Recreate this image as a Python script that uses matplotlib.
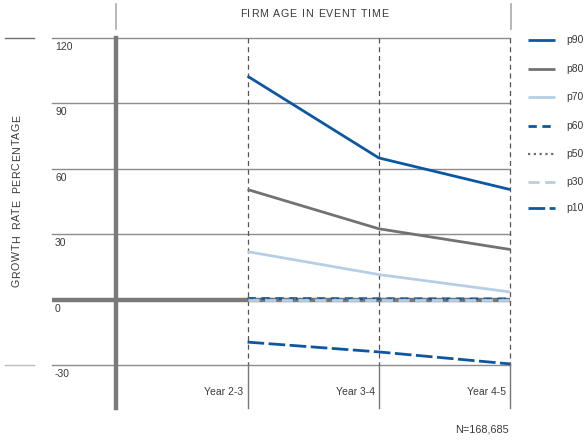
import matplotlib
matplotlib.use("Agg")
import matplotlib.pyplot as plt
from matplotlib.lines import Line2D
from matplotlib.transforms import offset_copy
from matplotlib.font_manager import FontProperties

plt.rcParams['font.family'] = ['Liberation Sans', 'DejaVu Sans']

# Data
periods = ["Year 2-3", "Year 3-4", "Year 4-5"]
series_names = ["p90", "p80", "p70", "p60", "p50", "p30", "p10"]
p90 = [102.5, 65.0, 50.5]
p80 = [50.5, 32.5, 23.0]
p70 = [22.0, 11.5, 3.5]
p60 = [0.5, 0.4, 0.3]
p50 = [0.3, 0.2, 0.1]
p30 = [0.0, 0.0, 0.0]
p10 = [-19.5, -24.0, -29.5]
y_ticks = [120, 90, 60, 30, 0, -30]
sample_size = "N=168,685"

values = [p90, p80, p70, p60, p50, p30, p10]
styles = [
    dict(color="#0d57a0", lw=2.0, ls="-"),
    dict(color="#727272", lw=2.0, ls="-"),
    dict(color="#b6cfe5", lw=2.0, ls="-"),
    dict(color="#0d57a0", lw=2.0, ls=(0, (3, 2))),
    dict(color="#6e6e6e", lw=1.6, ls=(0, (1, 1.6))),
    dict(color="#b6cfe5", lw=2.0, ls=(0, (4, 2))),
    dict(color="#0d57a0", lw=2.0, ls=(0, (6, 1.6))),
]

W, H = 587, 441
fig = plt.figure(figsize=(W / 100, H / 100), dpi=100)
renderer = fig.canvas.get_renderer()
txt_color = "#3a3a3a"


def fx(px):
    return px / W


def fy(py):
    return 1 - py / H


def ink_width(s, prop):
    return renderer.get_text_width_height_descent(s, prop, ismath=False)[0]


def spaced_text(cx, cy, s, size, track, word_extra, vertical=False):
    """Draw letter-spaced text centred on pixel position (cx, cy)."""
    prop = FontProperties(family=['Liberation Sans', 'DejaVu Sans'], size=size)
    n = len(s)
    total = ink_width(s, prop) + (n - 1) * track + s.count(" ") * word_extra
    for i, ch in enumerate(s):
        if ch == " ":
            continue
        # left ink edge of character i relative to the first character
        off = (ink_width(s[:i + 1], prop) - ink_width(ch, prop) + i * track
               + s[:i].count(" ") * word_extra)
        if vertical:
            fig.text(fx(cx), fy(cy + total / 2 - off), ch, rotation=90,
                     rotation_mode="anchor", ha="left", va="center",
                     fontproperties=prop, color=txt_color)
        else:
            fig.text(fx(cx - total / 2 + off), fy(cy), ch, ha="left",
                     va="center", fontproperties=prop, color=txt_color)


ax = fig.add_axes([fx(52), fy(365), fx(510) - fx(52), fy(38) - fy(365)])
ax.set_xlim(-1.49, 2.0)
ax.set_ylim(-30, 120)
ax.axis("off")

xs = list(range(len(periods)))

# horizontal gridlines
for t in y_ticks:
    if t == 0:
        continue
    ax.axhline(t, color="#8c8c8c", lw=1.0, zorder=1, clip_on=False)
# zero line and left axis bar
ax.axhline(0, color="#7a7a7a", lw=3.2, zorder=2)
ax.plot([-1, -1], [120, -49.5], color="#7a7a7a", lw=3.2, clip_on=False, zorder=2)

# vertical period separators: dashed inside, solid below the plot
for x in xs:
    ax.plot([x, x], [120, -30], color="#555555", lw=0.9, ls=(0, (4, 3)),
            zorder=1, clip_on=False)
    ax.plot([x, x], [-30, -49.5], color="#777777", lw=1.0, clip_on=False, zorder=1)

# series
order = [2, 1, 0, 6, 5, 3, 4]
for i in order:
    ax.plot(xs, values[i], zorder=3 + i * 0.1, solid_capstyle="butt",
            dash_capstyle="butt", clip_on=False, **styles[i])

# y tick labels, placed just under each gridline
lab_tr = offset_copy(ax.transData, fig=fig, x=3, y=-4, units="dots")
for t in y_ticks:
    ax.text(-1.49, t, str(t), transform=lab_tr, ha="left", va="top",
            fontsize=7.5, color=txt_color)

# period labels
per_tr = offset_copy(ax.transData, fig=fig, x=-4, y=0, units="dots")
for x, lab in zip(xs, periods):
    ax.text(x, -42.2, lab, transform=per_tr, ha="right", va="center",
            fontsize=7.5, color=txt_color, clip_on=False)

# header
spaced_text(314, 14, "FIRM AGE IN EVENT TIME", 7.7, 0.45, 1.7)
for px in (116, 511):
    fig.add_artist(Line2D([fx(px), fx(px)], [fy(4), fy(29)], color="#aaaaaa", lw=1.2))

# left-side short rules
fig.add_artist(Line2D([fx(5), fx(34)], [fy(38), fy(38)], color="#6f6f6f", lw=1.0))
fig.add_artist(Line2D([fx(5), fx(34)], [fy(365), fy(365)], color="#bdbdbd", lw=1.0))

spaced_text(17, 201, "GROWTH RATE PERCENTAGE", 7.7, 0.65, 2.0, vertical=True)

# legend
leg_y = [40, 69, 97, 126, 154, 182, 208]
for name, st, py in zip(series_names, styles, leg_y):
    fig.add_artist(Line2D([fx(528), fx(555)], [fy(py), fy(py)],
                          solid_capstyle="butt", dash_capstyle="butt", **st))
    fig.text(fx(566), fy(py), name, ha="left", va="center", fontsize=7.5,
             color=txt_color)

fig.text(fx(509), fy(430), sample_size, ha="right", va="center", fontsize=7.8,
         color=txt_color)

fig.savefig("out.png", dpi=100)
